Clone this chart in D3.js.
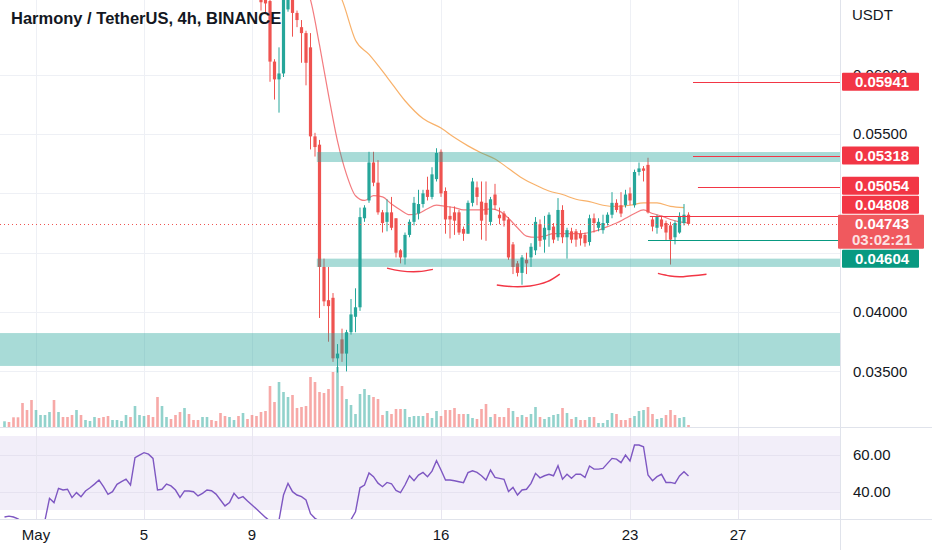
<!DOCTYPE html>
<html>
<head>
<meta charset="utf-8">
<script src="https://cdn.jsdelivr.net/npm/d3@7"></script>
<style>
  html, body { margin: 0; padding: 0; background: #fff; overflow: hidden; }
  text { font-family: "Liberation Sans", Arial, sans-serif; }
</style>
</head>
<body>
<svg id="chart" width="932" height="550"></svg>
<script>
// 4h bars, bar 0 = 29 Apr 20:00 UTC
var firstBar = Date.UTC(2022, 3, 29, 20);
var barMs = 4 * 3600 * 1000;
var candleStart = 57; // candles before this bar are above the visible price range

// [open, high, low, close] for bars 57..152
var candles = [
  [.0672, .0680, .0654, .0661], [.0668, .0676, .0652, .0660], [.0662, .0668, .0594, .0611],
  [.0611, .0613, .0579, .0596], [.0596, .0623, .0568, .0601], [.0601, .0672, .0598, .0667],
  [.0655, .0675, .0653, .0668], [.0668, .0672, .0632, .0652], [.0652, .0654, .0640, .0646],
  [.0640, .0646, .0610, .0635], [.0635, .0637, .0591, .0610], [.0623, .0635, .0537, .0548],
  [.0548, .0551, .0531, .0539], [.0541, .0545, .0395, .0438], [.0438, .0445, .0405, .0409],
  [.0410, .0438, .0375, .0405], [.0412, .0416, .0358, .0361], [.0361, .0373, .0349, .0365],
  [.0377, .0386, .0358, .0365], [.0365, .0385, .0350, .0383], [.0383, .0411, .0381, .0398],
  [.0396, .0420, .0383, .0404], [.0404, .0488, .0401, .0480], [.0479, .0490, .0476, .0488],
  [.0494, .0535, .0492, .0526], [.0526, .0535, .0506, .0509], [.0509, .0528, .0482, .0484],
  [.0484, .0486, .0467, .0475], [.0476, .0495, .0468, .0484], [.0484, .0497, .0469, .0471],
  [.0479, .0479, .0446, .0450], [.0452, .0453, .0441, .0446], [.0446, .0467, .0440, .0465],
  [.0465, .0478, .0463, .0476], [.0476, .0497, .0473, .0492], [.0483, .0503, .0478, .0491],
  [.0491, .0503, .0488, .0500], [.0503, .0514, .0494, .0497], [.0497, .0522, .0495, .0516],
  [.0512, .0538, .0510, .0534], [.0535, .0537, .0497, .0500], [.0502, .0505, .0466, .0478],
  [.0481, .0489, .0462, .0478], [.0484, .0489, .0465, .0477], [.0484, .0486, .0465, .0467],
  [.0470, .0472, .0460, .0466], [.0466, .0494, .0466, .0492], [.0492, .0513, .0489, .0510],
  [.0505, .0510, .0490, .0497], [.0493, .0510, .0461, .0477], [.0492, .0510, .0460, .0482],
  [.0476, .0497, .0473, .0495], [.0499, .0508, .0486, .0490], [.0482, .0488, .0474, .0479],
  [.0483, .0485, .0472, .0477], [.0478, .0480, .0444, .0446], [.0457, .0459, .0432, .0438],
  [.0441, .0443, .0430, .0433], [.0433, .0448, .0423, .0446], [.0444, .0450, .0432, .0441],
  [.0446, .0458, .0438, .0455], [.0452, .0480, .0448, .0476], [.0474, .0478, .0455, .0460],
  [.0461, .0481, .0450, .0471], [.0469, .0484, .0455, .0482], [.0472, .0475, .0458, .0461],
  [.0463, .0496, .0460, .0486], [.0486, .0490, .0458, .0463], [.0463, .0471, .0445, .0469],
  [.0468, .0471, .0458, .0461], [.0468, .0470, .0455, .0461], [.0466, .0469, .0456, .0462],
  [.0465, .0467, .0455, .0458], [.0459, .0482, .0456, .0479], [.0479, .0483, .0467, .0475],
  [.0471, .0479, .0468, .0476], [.0469, .0482, .0466, .0475], [.0475, .0484, .0473, .0482],
  [.0482, .0501, .0479, .0492], [.0492, .0495, .0484, .0486], [.0490, .0501, .0480, .0483],
  [.0490, .0503, .0488, .0499], [.0500, .0505, .0490, .0494], [.0490, .0520, .0488, .0518],
  [.0518, .0526, .0515, .0521], [.0521, .0523, .0510, .0519], [.0524, .0530, .0483, .0484],
  [.0478, .0480, .0468, .0472], [.0471, .0482, .0466, .0480], [.0478, .0481, .0470, .0472],
  [.0475, .0477, .0460, .0467], [.0473, .0476, .0440, .0461], [.0463, .0477, .0457, .0475],
  [.0467, .0484, .0466, .0481], [.0475, .0491, .0473, .0482], [.0482, .0484, .0473, .04743]
];

// volume for bars 0..152 and whether the bar closed up (1) or down (0)
var volume = [
  5.7, 5, 9.7, 9.7, 24, 17, 27, 17, 12, 12, 15, 27, 15, 10, 10, 12, 17, 12, 7, 6,
  10, 9, 10, 11, 7, 7, 6, 12, 10, 21, 12, 11, 12, 10, 30, 21, 10, 8, 12, 15,
  19, 13, 7, 7, 10, 10, 7, 6, 14, 11, 10, 7, 11, 14, 8, 12, 11, 15, 16, 41,
  25, 45, 35, 30, 32, 19, 20, 21, 50, 45, 35, 34, 38, 55, 60, 41, 28, 22, 13, 33,
  38, 32, 30, 28, 12, 16, 13, 18, 18, 18, 10, 11, 11, 11, 14, 9, 16, 11, 17, 17,
  19, 13, 13, 13, 9, 8, 18, 23, 10, 13, 10, 10, 19, 16, 10, 12, 10, 13, 20, 10,
  8, 10, 12, 13, 19, 14, 8, 10, 7, 7, 10, 10, 4, 4, 7, 14, 13, 7, 7, 9,
  11, 16, 17, 20, 13, 8, 9, 12, 17, 12, 9, 10, 2
];
var volUp = [
  1, 0, 0, 0, 0, 0, 0, 1, 1, 1, 1, 0, 1, 0, 0, 0, 1, 0, 1, 1,
  1, 0, 0, 0, 1, 1, 1, 1, 0, 1, 1, 1, 0, 0, 0, 1, 1, 0, 0, 0,
  1, 0, 0, 0, 1, 1, 0, 0, 0, 0, 1, 1, 0, 1, 0, 0, 0, 0, 0, 0,
  0, 1, 1, 1, 0, 0, 0, 0, 0, 0, 0, 0, 0, 0, 1, 0, 1, 1, 1, 1,
  1, 1, 0, 0, 0, 1, 0, 0, 0, 1, 1, 1, 1, 1, 0, 1, 1, 0, 0, 0,
  0, 0, 0, 1, 1, 0, 0, 0, 1, 0, 0, 0, 0, 1, 0, 1, 0, 1, 1, 0,
  1, 1, 1, 1, 0, 1, 0, 1, 0, 0, 1, 0, 1, 1, 1, 1, 0, 0, 0, 0,
  1, 1, 1, 0, 0, 1, 1, 0, 0, 0, 1, 1, 0
];

// RSI(14) for bars 0..152
var rsi = [
  26.2, 26.7, 26.2, 25.2, 23.5, 24, 22.5, 23, 22, 24.5, 36.3, 34, 41.7, 40.8, 41.2, 36.7, 39.4, 37.2, 40.3, 42,
  44, 46.2, 42.6, 38.5, 39.9, 43.9, 45.3, 46.7, 43.5, 58.3, 59.7, 61, 60.2, 57.9, 40.8, 41.2, 44, 43, 40.8, 36.8,
  40.3, 40.3, 39.9, 37.6, 39, 40.8, 40.4, 38.6, 35.4, 32.2, 34, 39, 36.3, 37.2, 34.9, 32.7, 30.5, 28.2, 26, 24,
  22.5, 24.5, 38.1, 44.4, 39.9, 38.1, 37.2, 35.4, 28, 25.5, 24, 23, 22, 22.5, 23, 24, 24.5, 24.8, 29, 42,
  43.5, 50, 48, 44.5, 42.6, 44.9, 44.2, 40.6, 39.4, 43.5, 48.5, 45.8, 48.9, 50.3, 48, 51, 56.6, 51.6, 46.2, 46.2,
  45.8, 45.3, 44.8, 50.2, 51.2, 50.3, 48.5, 46.2, 51.6, 47.6, 47.1, 46.6, 40, 42.2, 38.1, 40.8, 41.2, 44.4, 49.8, 47.4,
  48.5, 49.3, 48.5, 53.9, 46.7, 49.3, 47.1, 49.4, 49.3, 47.6, 53.8, 52.1, 52.1, 52.5, 55.2, 57.9, 57.5, 55.6, 59.7, 56.5,
  65.1, 65.1, 64.2, 48.9, 45.8, 48, 49.3, 44.9, 44.9, 44.4, 48.4, 50.7, 48.4
];

// moving averages as [bar, price]
var emaFast = [
  [66, .0680], [68, .0663], [70, .0625], [72, .0583], [74, .0544], [76, .0516], [78, .0498],
  [80, .0494], [82, .0498], [84, .0497], [86, .0491], [88, .0486], [90, .0482], [92, .0483],
  [94, .0487], [96, .0490], [98, .0489], [100, .0488], [102, .0486], [104, .0486], [106, .0486],
  [108, .0487], [110, .0485], [112, .0479], [114, .0471], [116, .0464], [118, .0463], [120, .0464],
  [122, .0466], [124, .0466], [126, .0466], [128, .0466], [130, .0467], [132, .0469], [134, .0472],
  [136, .0475], [138, .0479], [140, .0483], [142, .0486], [144, .0483], [146, .0481], [148, .0478],
  [150, .0476], [152, .0475]
];
var emaSlow = [
  [74, .0671], [75, .0663], [78, .0629], [81, .0617], [85, .0598], [89, .0578], [93, .0563],
  [97, .0555], [100, .0547], [103, .0540], [106, .0534], [109, .0529], [112, .0521], [115, .0513],
  [118, .0507], [121, .0502], [124, .0499], [127, .0495], [130, .0493], [133, .0490], [136, .0489],
  [139, .0490], [142, .0492], [145, .0492], [148, .0489], [151, .0488]
];

// drawn zones [top, bottom, first bar]
var zones = [[.05348, .05264, 69.4], [.0445, .0438, 69.4], [.03823, .03546, -2]];

// horizontal price levels
var levelPrices = [0.05941, 0.05318, 0.05054, 0.04808, 0.04604];
var levelStart = [153, 153, 154.1, 143.4, 143];
var levelColors = ["#f23645", "#f23645", "#f23645", "#f23645", "#089981"];
var lastPrice = 0.04743;
var countdown = "03:02:21";

// hand drawn arcs under the lows, [bar, price]
var arcs = [
  [[85, .0437], [88, .04347], [92, .04341], [95.2, .0436]],
  [[109.4, .04228], [113, .04214], [116.8, .0422], [120.6, .04256], [123.4, .0432]],
  [[145.2, .04326], [147.9, .04304], [150.8, .04298], [156, .04318]]
];

var priceTicks = [0.035, 0.040, 0.045, 0.050, 0.055, 0.060];
var rsiTicks = [40, 60];
var dateTicks = [Date.UTC(2022, 4, 1), Date.UTC(2022, 4, 5), Date.UTC(2022, 4, 9),
                 Date.UTC(2022, 4, 16), Date.UTC(2022, 4, 23), Date.UTC(2022, 4, 27)];

var ctx = {
  axisX: 840,
  mainBottom: 427,
  rsiBottom: 519,
  up: "#26a69a",
  down: "#ef5350",
  grid: "#eef0f5",
  border: "#e0e3eb",
  text: "#131722"
};

var svg = d3.select("#chart");

var x = d3.scaleUtc()
  .domain([new Date(firstBar), new Date(firstBar + 163 * barMs)])
  .range([4.5, 738]);
var bx = function (k) { return x(new Date(firstBar + k * barMs)); };
var y = d3.scaleLinear().domain([0.035, 0.055]).range([371.4, 134]);
var yv = d3.scaleLinear().domain([0, 60]).range([ctx.mainBottom, ctx.mainBottom - 60]);
var yr = d3.scaleLinear().domain([30, 70]).range([510, 436]);

var defs = svg.append("defs");
defs.append("clipPath").attr("id", "clipMain")
  .append("rect").attr("x", 0).attr("y", 0).attr("width", ctx.axisX).attr("height", ctx.mainBottom);
defs.append("clipPath").attr("id", "clipRsi")
  .append("rect").attr("x", 0).attr("y", ctx.mainBottom + 1).attr("width", ctx.axisX)
  .attr("height", ctx.rsiBottom - ctx.mainBottom - 1);

// grid
var grid = svg.append("g");
grid.selectAll(".vgrid").data(dateTicks).enter().append("line")
  .attr("x1", function (d) { return Math.round(x(new Date(d))) + 0.5; })
  .attr("x2", function (d) { return Math.round(x(new Date(d))) + 0.5; })
  .attr("y1", 0).attr("y2", ctx.rsiBottom)
  .attr("stroke", ctx.grid);
grid.selectAll(".hgrid").data(priceTicks).enter().append("line")
  .attr("x1", 0).attr("x2", ctx.axisX)
  .attr("y1", function (d) { return Math.round(y(d)) + 0.5; })
  .attr("y2", function (d) { return Math.round(y(d)) + 0.5; })
  .attr("stroke", ctx.grid);

// main pane
var main = svg.append("g").attr("clip-path", "url(#clipMain)");

main.selectAll(".vol").data(volume).enter().append("rect")
  .attr("x", function (d, i) { return bx(i) - 1.3; })
  .attr("y", function (d) { return yv(d); })
  .attr("width", 2.6)
  .attr("height", function (d) { return ctx.mainBottom - yv(d); })
  .attr("fill", function (d, i) { return volUp[i] ? ctx.up : ctx.down; })
  .attr("opacity", 0.5);

var maLine = d3.line()
  .x(function (d) { return bx(d[0]); })
  .y(function (d) { return y(d[1]); })
  .curve(d3.curveMonotoneX);

main.append("path").datum(emaSlow).attr("d", maLine)
  .attr("fill", "none").attr("stroke", "#f7a350").attr("stroke-width", 1.2).attr("opacity", 0.85);
main.append("path").datum(emaFast).attr("d", maLine)
  .attr("fill", "none").attr("stroke", "#f05a5f").attr("stroke-width", 1.2).attr("opacity", 0.8);

var cg = main.selectAll(".candle").data(candles).enter().append("g");
cg.append("line")
  .attr("x1", function (d, i) { return bx(i + candleStart); })
  .attr("x2", function (d, i) { return bx(i + candleStart); })
  .attr("y1", function (d) { return y(d[1]); })
  .attr("y2", function (d) { return y(d[2]); })
  .attr("stroke", function (d) { return d[3] >= d[0] ? ctx.up : ctx.down; })
  .attr("stroke-width", 1);
cg.append("rect")
  .attr("x", function (d, i) { return bx(i + candleStart) - 1.6; })
  .attr("y", function (d) { return y(Math.max(d[0], d[3])); })
  .attr("width", 3.2)
  .attr("height", function (d) { return Math.max(1, Math.abs(y(d[0]) - y(d[3]))); })
  .attr("fill", function (d) { return d[3] >= d[0] ? ctx.up : ctx.down; });

// zones sit on top of the candles, like the drawing tool does
main.selectAll(".zone").data(zones).enter().append("rect")
  .attr("x", function (d) { return bx(d[2]); })
  .attr("y", function (d) { return y(d[0]); })
  .attr("width", function (d) { return ctx.axisX - bx(d[2]); })
  .attr("height", function (d) { return y(d[1]) - y(d[0]); })
  .attr("fill", "rgba(38,166,154,0.4)");

main.selectAll(".level").data(levelPrices).enter().append("line")
  .attr("x1", function (d, i) { return bx(levelStart[i]); })
  .attr("x2", ctx.axisX)
  .attr("y1", function (d) { return Math.round(y(d)) + 0.5; })
  .attr("y2", function (d) { return Math.round(y(d)) + 0.5; })
  .attr("stroke", function (d, i) { return levelColors[i]; })
  .attr("stroke-width", 1);

var arcLine = d3.line()
  .x(function (d) { return bx(d[0]); })
  .y(function (d) { return y(d[1]); })
  .curve(d3.curveNatural);
main.selectAll(".arc").data(arcs).enter().append("path")
  .attr("d", arcLine)
  .attr("fill", "none").attr("stroke", "#f23645").attr("stroke-width", 1.4);

main.append("line")
  .attr("x1", 0).attr("x2", ctx.axisX)
  .attr("y1", Math.round(y(lastPrice)) + 0.5).attr("y2", Math.round(y(lastPrice)) + 0.5)
  .attr("stroke", ctx.down).attr("stroke-dasharray", "1,3");

// RSI pane
var rsiG = svg.append("g").attr("clip-path", "url(#clipRsi)");
rsiG.append("rect")
  .attr("x", 0).attr("y", yr(70)).attr("width", ctx.axisX).attr("height", yr(30) - yr(70))
  .attr("fill", "rgba(126,87,194,0.1)");
rsiG.selectAll(".rgrid").data(rsiTicks).enter().append("line")
  .attr("x1", 0).attr("x2", ctx.axisX)
  .attr("y1", function (d) { return Math.round(yr(d)) + 0.5; })
  .attr("y2", function (d) { return Math.round(yr(d)) + 0.5; })
  .attr("stroke", "#e6e2f0");
rsiG.selectAll(".rv").data(dateTicks).enter().append("line")
  .attr("x1", function (d) { return Math.round(x(new Date(d))) + 0.5; })
  .attr("x2", function (d) { return Math.round(x(new Date(d))) + 0.5; })
  .attr("y1", ctx.mainBottom).attr("y2", ctx.rsiBottom)
  .attr("stroke", "#e8e6f0");
rsiG.append("path").datum(rsi)
  .attr("d", d3.line().x(function (d, i) { return bx(i); }).y(function (d) { return yr(d); }))
  .attr("fill", "none").attr("stroke", "#7e57c2").attr("stroke-width", 1.4);

// borders
svg.append("line").attr("x1", 0).attr("x2", 932)
  .attr("y1", ctx.mainBottom + 0.5).attr("y2", ctx.mainBottom + 0.5).attr("stroke", ctx.border);
svg.append("line").attr("x1", 0).attr("x2", 932)
  .attr("y1", ctx.rsiBottom + 0.5).attr("y2", ctx.rsiBottom + 0.5).attr("stroke", ctx.border);
svg.append("line").attr("x1", ctx.axisX + 0.5).attr("x2", ctx.axisX + 0.5)
  .attr("y1", 0).attr("y2", 550).attr("stroke", ctx.border);

// price labels, pushed apart around the last price label
var labels = levelPrices.map(function (p, i) {
  return { price: p, h: 18, fill: levelColors[i], last: false };
});
labels.push({ price: lastPrice, h: 34, fill: "#f0595e", last: true });
labels.sort(function (a, b) { return b.price - a.price; });
labels.forEach(function (l) {
  l.top = l.last ? y(l.price) - 9 : y(l.price) - l.h / 2;
});
var li = labels.findIndex(function (l) { return l.last; });
for (var i = li - 1; i >= 0; i--) {
  var limit = labels[i + 1].top - 1;
  if (labels[i].top + labels[i].h > limit) labels[i].top = limit - labels[i].h;
}
for (var i = li + 1; i < labels.length; i++) {
  var limitTop = labels[i - 1].top + labels[i - 1].h + 1;
  if (labels[i].top < limitTop) labels[i].top = limitTop;
}

// a tick label mostly hidden under the price labels is not drawn
var covered = function (yc) {
  var a = yc - 6, b = yc + 6, c = 0;
  labels.forEach(function (l) {
    c += Math.max(0, Math.min(b, l.top + l.h) - Math.max(a, l.top));
  });
  return c / 12 > 0.8;
};

// right axis
var axisG = svg.append("g");
axisG.append("text").attr("x", 852).attr("y", 15).attr("dy", "0.35em")
  .attr("font-size", 15).attr("fill", ctx.text).text("USDT");
axisG.selectAll(".ptick").data(priceTicks.filter(function (d) { return !covered(y(d)); }))
  .enter().append("text")
  .attr("x", 853).attr("y", function (d) { return y(d); }).attr("dy", "0.35em")
  .attr("font-size", 15).attr("fill", ctx.text)
  .text(d3.format(".5f"));
axisG.selectAll(".rtick").data(rsiTicks).enter().append("text")
  .attr("x", 853).attr("y", function (d) { return yr(d); }).attr("dy", "0.35em")
  .attr("font-size", 15).attr("fill", ctx.text)
  .text(d3.format(".2f"));

// bottom axis
svg.selectAll(".dtick").data(dateTicks).enter().append("text")
  .attr("x", function (d) { return x(new Date(d)); }).attr("y", 535).attr("dy", "0.35em")
  .attr("text-anchor", "middle").attr("font-size", 15).attr("fill", ctx.text)
  .text(function (d) {
    var t = new Date(d);
    return t.getUTCDate() === 1 ? d3.utcFormat("%b")(t) : t.getUTCDate();
  });

var lg = svg.selectAll(".plabel").data(labels).enter().append("g");
lg.append("rect")
  .attr("x", function (d) { return d.last ? 838 : 842; })
  .attr("y", function (d) { return d.top; })
  .attr("width", function (d) { return d.last ? 86 : 77; })
  .attr("height", function (d) { return d.h; })
  .attr("rx", 1)
  .attr("fill", function (d) { return d.fill; });
lg.append("text")
  .attr("x", 882).attr("y", function (d) { return d.top + 9; }).attr("dy", "0.35em")
  .attr("text-anchor", "middle").attr("font-size", 15).attr("font-weight", "bold")
  .attr("fill", "#fff")
  .text(function (d) { return d3.format(".5f")(d.price); });
lg.filter(function (d) { return d.last; }).append("text")
  .attr("x", 882).attr("y", function (d) { return d.top + 25; }).attr("dy", "0.35em")
  .attr("text-anchor", "middle").attr("font-size", 15).attr("font-weight", "bold")
  .attr("fill", "#fde2e2")
  .text(countdown);

// title
svg.append("text").attr("x", 11).attr("y", 24)
  .attr("font-size", 16.5).attr("font-weight", "bold").attr("fill", ctx.text)
  .text("Harmony / TetherUS, 4h, BINANCE");
</script>
</body>
</html>
